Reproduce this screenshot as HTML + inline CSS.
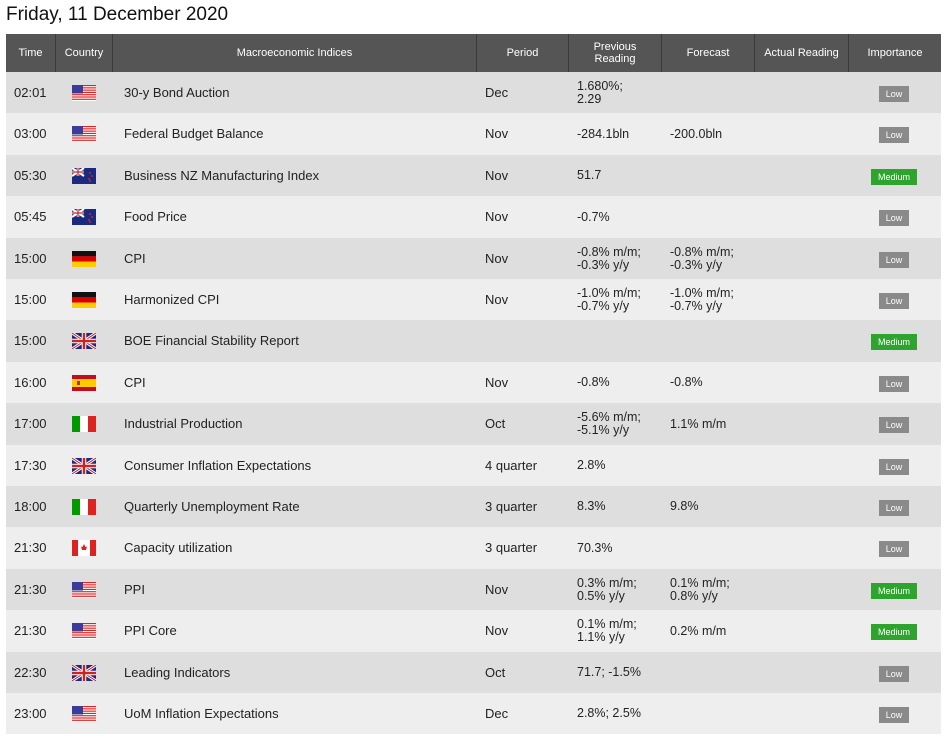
<!DOCTYPE html>
<html><head><meta charset="utf-8"><style>
body{margin:0;width:948px;height:742px;background:#fff;font-family:"Liberation Sans",Arial,sans-serif;position:relative;overflow:hidden}
.title{position:absolute;left:6px;top:4px;font-size:19px;color:#111}
.hdr{position:absolute;top:34px;height:38px;left:6px;width:935px;background:#555}
.hc{position:absolute;top:0;height:38px;display:flex;align-items:center;justify-content:center;text-align:center;color:#fff;font-size:11px;line-height:12px;border-right:1px solid #3a3a3a;box-sizing:border-box}
.row{position:absolute;left:6px;width:935px}
.c{position:absolute;top:0;bottom:0;display:flex;align-items:center;font-size:13px;color:#222;line-height:14px}
.flag{position:absolute;left:66px;width:24px;height:16px}
.badge{position:absolute;height:16px;font-size:9px;color:#fff;display:flex;align-items:center;justify-content:center}
</style></head><body>
<div class="title">Friday, 11 December 2020</div>
<div class="hdr">
<div class="hc" style="left:0;width:50px">Time</div>
<div class="hc" style="left:50px;width:57px">Country</div>
<div class="hc" style="left:107px;width:364px">Macroeconomic Indices</div>
<div class="hc" style="left:471px;width:92px">Period</div>
<div class="hc" style="left:563px;width:93px">Previous<br>Reading</div>
<div class="hc" style="left:656px;width:93px">Forecast</div>
<div class="hc" style="left:749px;width:94px">Actual Reading</div>
<div class="hc" style="left:843px;width:92px;border-right:none">Importance</div>
</div>
<div id="rows"></div>
<script>
const times=["02:01","03:00","05:30","05:45","15:00","15:00","15:00","16:00","17:00","17:30","18:00","21:30","21:30","21:30","22:30","23:00"];
const countries=["us","us","nz","nz","de","de","gb","es","it","gb","it","ca","us","us","gb","us"];
const names=["30-y Bond Auction","Federal Budget Balance","Business NZ Manufacturing Index","Food Price","CPI","Harmonized CPI","BOE Financial Stability Report","CPI","Industrial Production","Consumer Inflation Expectations","Quarterly Unemployment Rate","Capacity utilization","PPI","PPI Core","Leading Indicators","UoM Inflation Expectations"];
const periods=["Dec","Nov","Nov","Nov","Nov","Nov","","Nov","Oct","4 quarter","3 quarter","3 quarter","Nov","Nov","Oct","Dec"];
const prevs=["1.680%;<br>2.29","-284.1bln","51.7","-0.7%","-0.8% m/m;<br>-0.3% y/y","-1.0% m/m;<br>-0.7% y/y","","-0.8%","-5.6% m/m;<br>-5.1% y/y","2.8%","8.3%","70.3%","0.3% m/m;<br>0.5% y/y","0.1% m/m;<br>1.1% y/y","71.7; -1.5%","2.8%; 2.5%"];
const forecasts=["","-200.0bln","","","-0.8% m/m;<br>-0.3% y/y","-1.0% m/m;<br>-0.7% y/y","","-0.8%","1.1% m/m","","9.8%","","0.1% m/m;<br>0.8% y/y","0.2% m/m","",""];
const importance=["Low","Low","Medium","Low","Low","Low","Medium","Low","Low","Low","Low","Low","Medium","Medium","Low","Low"];
function flag(c){
 const s='<svg viewBox="0 0 24 16" width="24" height="16">';
 if(c=="us"){let r='';for(let i=0;i<7;i++)r+=`<rect y="${i*16/7*1}" width="24" height="1.15" fill="#d22"/>`;return s+'<rect width="24" height="16" fill="#fff"/>'+r+'<rect width="11" height="8.5" fill="#3b3b99"/></svg>';}
 if(c=="nz")return s+'<rect width="24" height="16" fill="#1a2a80"/><path d="M0 0L12 8M12 0L0 8" stroke="#fff" stroke-width="2"/><path d="M6 0V8M0 4H12" stroke="#fff" stroke-width="2.5"/><path d="M6 0V8M0 4H12" stroke="#c22" stroke-width="1.2"/><circle cx="18" cy="5" r="1" fill="#c22"/><circle cx="20" cy="8" r="1" fill="#c22"/><circle cx="17" cy="11" r="1" fill="#c22"/><circle cx="18" cy="13" r="1" fill="#c22"/></svg>';
 if(c=="de")return s+'<rect width="24" height="5.4" fill="#111"/><rect y="5.3" width="24" height="5.4" fill="#d00"/><rect y="10.6" width="24" height="5.4" fill="#fc0"/></svg>';
 if(c=="gb")return s+'<rect width="24" height="16" fill="#1a2a80"/><path d="M0 0L24 16M24 0L0 16" stroke="#fff" stroke-width="3"/><path d="M0 0L24 16M24 0L0 16" stroke="#c22" stroke-width="1"/><path d="M12 0V16M0 8H24" stroke="#fff" stroke-width="4.5"/><path d="M12 0V16M0 8H24" stroke="#c22" stroke-width="2.5"/></svg>';
 if(c=="es")return s+'<rect width="24" height="16" fill="#c60b1e"/><rect y="4" width="24" height="8" fill="#fc0"/><rect x="5" y="6" width="3" height="4" fill="#a33"/></svg>';
 if(c=="it")return s+'<rect width="8" height="16" fill="#090"/><rect x="8" width="8" height="16" fill="#fff"/><rect x="16" width="8" height="16" fill="#d22"/></svg>';
 if(c=="ca")return s+'<rect width="24" height="16" fill="#fff"/><rect width="6" height="16" fill="#d22"/><rect x="18" width="6" height="16" fill="#d22"/><path d="M12 4L13.5 7L15 6.5L14 10H10L9 6.5L10.5 7Z" fill="#d22"/></svg>';
}
const host=document.getElementById('rows');
for(let i=0;i<times.length;i++){
 const top=Math.round(72+i*41.4), h=Math.round(72+(i+1)*41.4)-top;
 const r=document.createElement('div');
 r.className='row';
 
 
 r.style.top=top+'px';r.style.height=h+'px';r.style.background=i%2?'#eeeeee':'#dedede';
 const isMed=importance[i]=="Medium";
 r.innerHTML=`<div class="c" style="left:8px">${times[i]}</div>
<div class="flag" style="top:${(h-16)/2}px">${flag(countries[i])}</div>
<div class="c" style="left:118px">${names[i]}</div>
<div class="c" style="left:479px">${periods[i]}</div>
<div class="c" style="left:571px;font-size:12.5px;line-height:13px">${prevs[i]}</div>
<div class="c" style="left:664px;font-size:12.5px;line-height:13px">${forecasts[i]}</div>
<div class="badge" style="left:${isMed?865:873}px;width:${isMed?46:30}px;top:${(h-16)/2+1}px;background:${isMed?'#2ea32e':'#8a8a8a'}">${importance[i]}</div>`;
 host.appendChild(r);
}
</script>
</body></html>
